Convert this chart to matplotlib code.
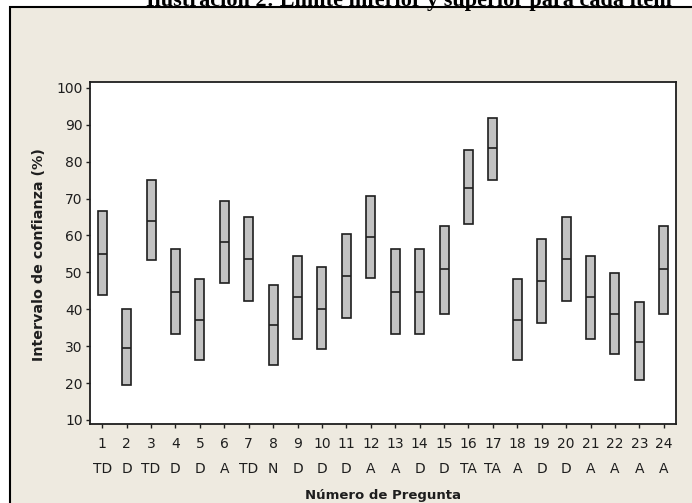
import matplotlib
matplotlib.use("Agg")
import matplotlib.pyplot as plt
from matplotlib.patches import Rectangle
import numpy as np

# question number, answer code, CI lower / centre / upper (%)
QUESTIONS = list(range(1, 25))
ANSWERS = ["TD", "D", "TD", "D", "D", "A", "TD", "N", "D", "D", "D", "A",
           "A", "D", "D", "TA", "TA", "A", "D", "D", "A", "A", "A", "A"]
LOWER = [43.8, 19.4, 53.3, 33.3, 26.3, 47.0, 42.3, 25.0, 32.0, 29.2, 37.7, 48.4,
         33.3, 33.3, 38.8, 63.0, 75.1, 26.3, 36.3, 42.3, 32.0, 27.8, 20.8, 38.8]
CENTER = [55.1, 29.6, 64.0, 44.7, 37.2, 58.2, 53.6, 35.8, 43.3, 40.2, 49.1, 59.6,
          44.7, 44.7, 50.8, 72.9, 83.6, 37.2, 47.7, 53.6, 43.3, 38.6, 31.2, 50.8]
UPPER = [66.5, 40.0, 75.1, 56.2, 48.3, 69.4, 65.0, 46.6, 54.5, 51.5, 60.5, 70.8,
         56.2, 56.2, 62.7, 83.2, 91.8, 48.3, 59.1, 65.0, 54.5, 49.8, 41.9, 62.7]
YTICKS = [10, 20, 30, 40, 50, 60, 70, 80, 90, 100]

W, H = 692, 503
BEIGE = "#EEEAE0"
BOX_W = 0.37

fig = plt.figure(figsize=(W / 100, H / 100), dpi=100, facecolor="white")

# beige panel with black frame (runs off the right/bottom edge)
frame = Rectangle((10 / W, -0.1), 1.2, 1 - 7.5 / H + 0.1, transform=fig.transFigure,
                  facecolor=BEIGE, edgecolor="black", linewidth=1.5, zorder=-5)
fig.patches.append(frame)

# title, clipped at top like the original screenshot
fig.text(409 / W, 1 - 6 / H, "Ilustración 2: Límite inferior y superior para cada ítem",
         ha="center", va="baseline", fontsize=16, fontweight="bold",
         family="Liberation Serif")

ax = fig.add_axes([90 / W, 1 - 424 / H, (676 - 90) / W, (424 - 82) / H])
ax.set_facecolor("white")

x = np.array(QUESTIONS)
low = np.array(LOWER)
high = np.array(UPPER)
ax.bar(x, high - low, bottom=low, width=BOX_W, color="#C2C2C2",
       edgecolor="#1e1e1e", linewidth=1.2, zorder=2)
ax.hlines(CENTER, x - BOX_W / 2, x + BOX_W / 2, color="#1e1e1e", linewidth=1.2, zorder=3)

ax.set_xlim(0.5, 24.5)
ax.set_ylim(8.9, 101.6)
ax.set_yticks(YTICKS)
ax.set_xticks(QUESTIONS)
ax.tick_params(axis="both", direction="out", length=3.2, width=1, colors="#1e1e1e",
               labelsize=10)
ax.tick_params(axis="x", pad=6.5)
ax.tick_params(axis="y", pad=2)
for s in ax.spines.values():
    s.set_color("#1e1e1e")
    s.set_linewidth(1.3)

# answer codes under the question numbers
for xi, a in zip(QUESTIONS, ANSWERS):
    ax.text(xi, -45 / 342, a, transform=ax.get_xaxis_transform(),
            ha="center", va="center", fontsize=10, color="#1e1e1e")

fig.text(383 / W, 1 - 496 / H, "Número de Pregunta", ha="center", va="center",
         fontsize=9.5, fontweight="bold", color="#1e1e1e")
fig.text(39 / W, 1 - 255 / H, "Intervalo de confianza (%)", ha="center", va="center",
         rotation=90, fontsize=10.3, fontweight="bold", color="#1e1e1e")

fig.savefig("out.png", dpi=100, facecolor=fig.get_facecolor())
